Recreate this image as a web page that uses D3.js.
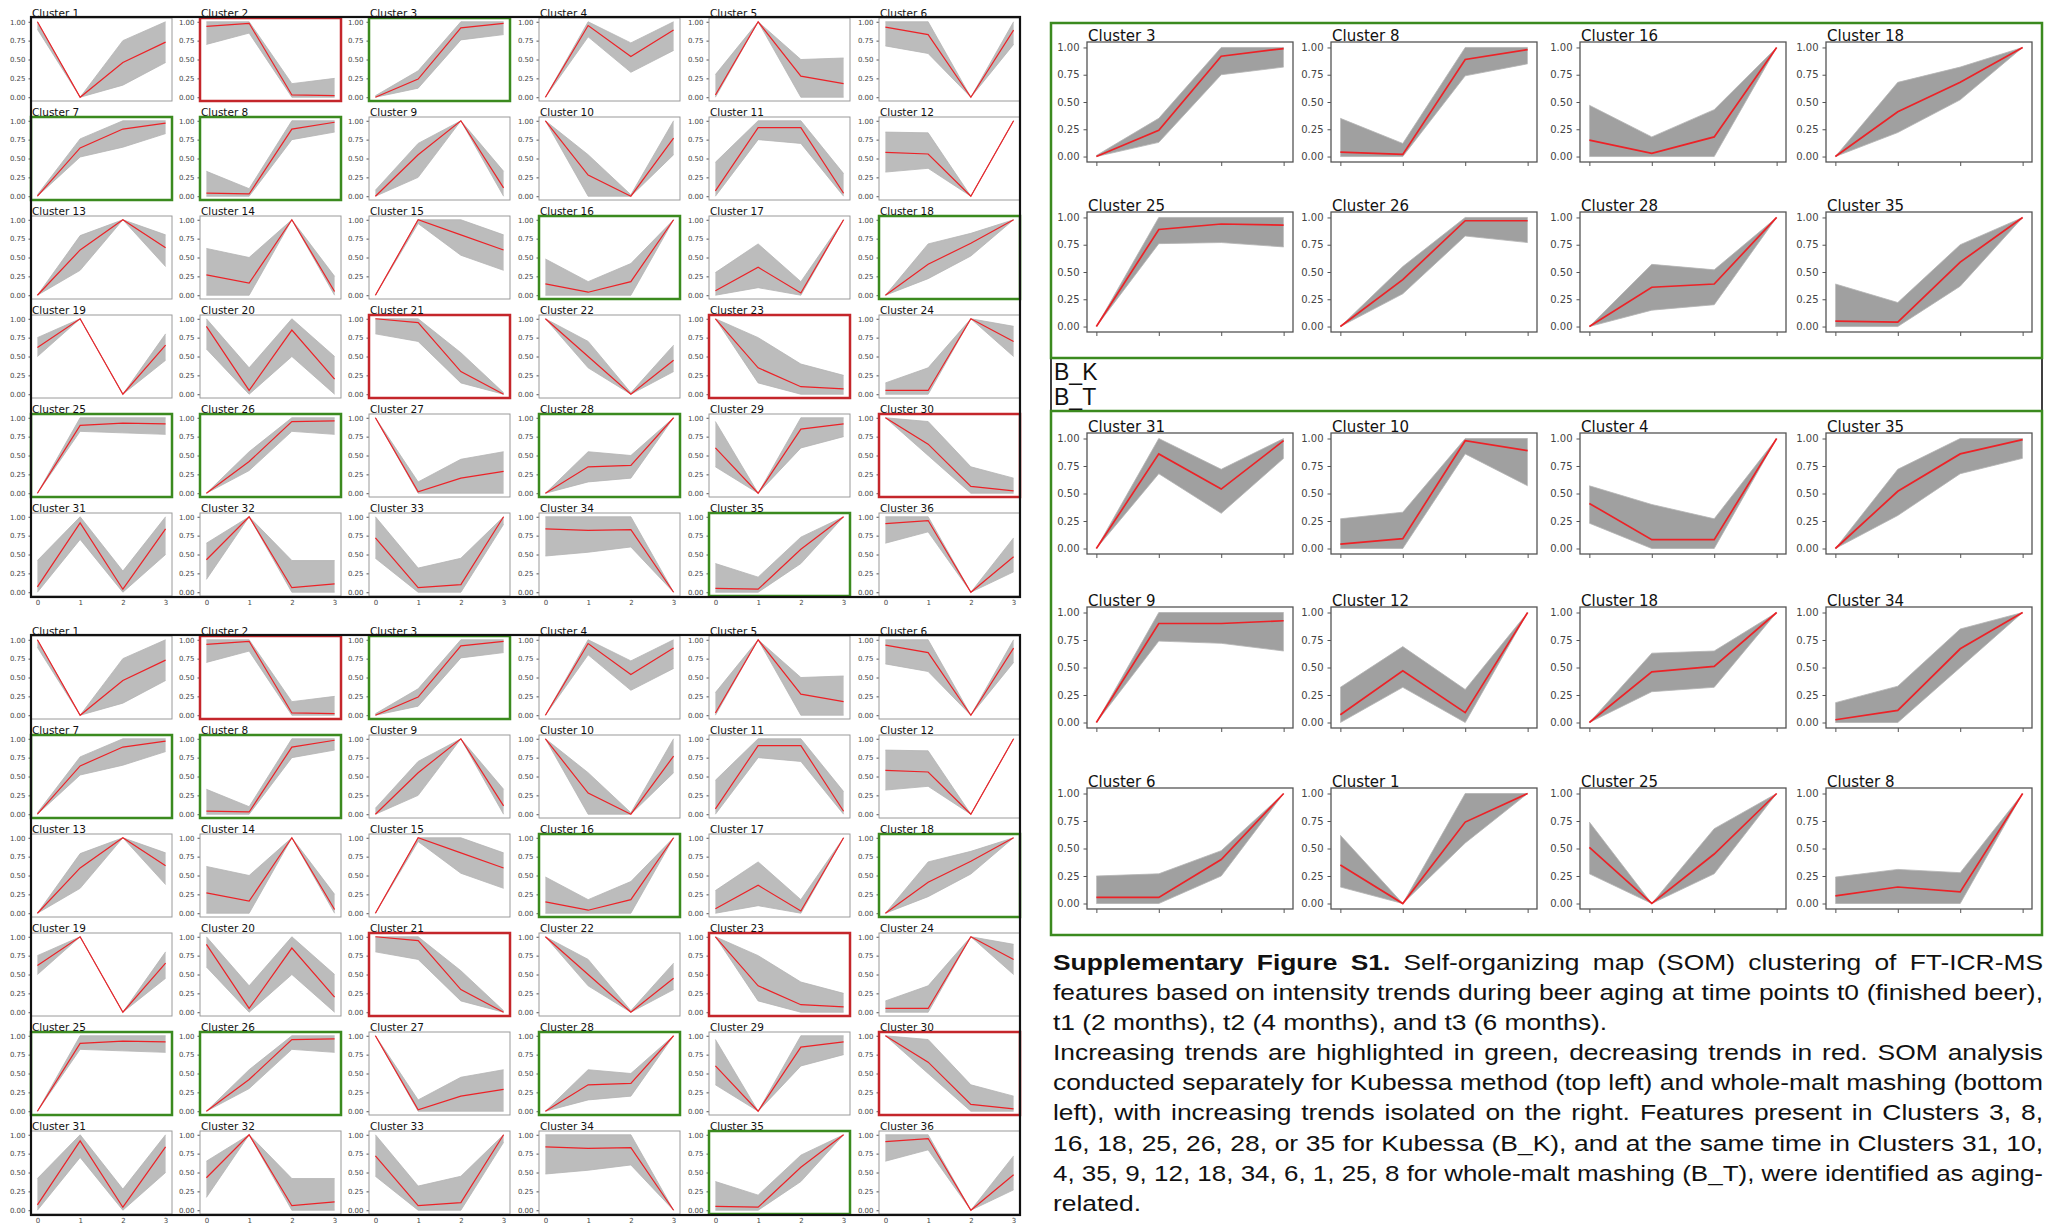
<!DOCTYPE html>
<html>
<head>
<meta charset="utf-8">
<title>SOM clustering, Supplementary Figure S1</title>
<script src="https://d3js.org/d3.v7.min.js"></script>
<style>
  body { margin: 0; background: #fff; }
</style>
</head>
<body>
<script>
var W = 2048, H = 1226;

// time points and y ticks shared by every panel
var timePoints = [0, 1, 2, 3];
var yTicks = [0, 0.25, 0.5, 0.75, 1];

// left grids: clusters 1..36, red mean line and grey envelope (low / high)
var leftMean = [
  [1, 0, 0.46, 0.73], [0.94, 0.98, 0.03, 0.02], [0, 0.24, 0.92, 0.98], [0, 0.95, 0.54, 0.89], [0.03, 1, 0.28, 0.18], [0.93, 0.83, 0, 0.89],
  [0, 0.64, 0.89, 0.97], [0.04, 0.03, 0.89, 0.98], [0, 0.55, 1, 0.11], [1, 0.28, 0, 0.77], [0.07, 0.91, 0.91, 0.04], [0.58, 0.56, 0, 1],
  [0, 0.6, 1, 0.63], [0.27, 0.16, 1, 0.05], [0, 1, 0.8, 0.6], [0.15, 0.04, 0.18, 1], [0.06, 0.37, 0.03, 1], [0, 0.41, 0.69, 1],
  [0.62, 1, 0, 0.65], [0.9, 0.05, 0.85, 0.2], [1, 0.95, 0.3, 0], [1, 0.5, 0, 0.45], [1, 0.35, 0.1, 0.07], [0.05, 0.05, 1, 0.7],
  [0, 0.9, 0.93, 0.92], [0, 0.42, 0.95, 0.96], [1, 0.02, 0.2, 0.29], [0, 0.35, 0.37, 1], [0.6, 0, 0.85, 0.92], [1, 0.65, 0.09, 0.03],
  [0.07, 0.92, 0.04, 0.84], [0.43, 1, 0.06, 0.11], [0.72, 0.06, 0.1, 1], [0.84, 0.82, 0.83, 0], [0.05, 0.04, 0.57, 1], [0.91, 0.95, 0, 0.47]
];
var leftLo = [
  [0.9, 0, 0.16, 0.46], [0.7, 0.85, 0, 0], [0, 0.12, 0.76, 0.83], [0, 0.8, 0.33, 0.62], [0, 1, 0, 0], [0.68, 0.58, 0, 0.7],
  [0, 0.52, 0.65, 0.83], [0, 0, 0.75, 0.85], [0, 0.25, 1, 0], [1, 0, 0, 0.55], [0, 0.75, 0.7, 0], [0.32, 0.37, 0, 1],
  [0, 0.33, 1, 0.38], [0, 0, 1, 0], [0, 0.95, 0.53, 0.33], [0, 0, 0, 1], [0, 0.1, 0, 1], [0, 0.22, 0.52, 1],
  [0.5, 1, 0, 0.45], [0.6, 0, 0.5, 0], [0.8, 0.7, 0.15, 0], [1, 0.35, 0, 0.3], [1, 0.15, 0, 0], [0, 0, 1, 0.5],
  [0, 0.82, 0.8, 0.78], [0, 0.3, 0.82, 0.78], [1, 0, 0, 0], [0, 0.15, 0.2, 1], [0.35, 0, 0.6, 0.75], [1, 0.5, 0, 0],
  [0, 0.7, 0, 0.5], [0.17, 1, 0, 0], [0.45, 0, 0, 0.9], [0.48, 0.53, 0.6, 0], [0, 0, 0.38, 1], [0.65, 0.8, 0, 0.27]
];
var leftHi = [
  [1, 0, 0.75, 1], [1, 1, 0.18, 0.25], [0.02, 0.35, 1, 1], [0, 1, 0.72, 1], [0.3, 1, 0.5, 0.52], [1, 1, 0, 1],
  [0.02, 0.76, 1, 1], [0.33, 0.1, 1, 1], [0.08, 0.7, 1, 0.33], [1, 0.55, 0.02, 1], [0.45, 1, 1, 0.3], [0.85, 0.84, 0, 1],
  [0, 0.79, 1, 0.8], [0.62, 0.5, 1, 0.25], [0, 1, 1, 0.8], [0.48, 0.18, 0.42, 1], [0.3, 0.68, 0.18, 1], [0, 0.68, 0.82, 1],
  [0.75, 1, 0, 0.8], [1, 0.35, 1, 0.5], [1, 1, 0.55, 0.02], [1, 0.7, 0.02, 0.65], [1, 0.75, 0.4, 0.25], [0.15, 0.35, 1, 0.9],
  [0, 1, 1, 1], [0, 0.55, 1, 1], [1, 0.15, 0.45, 0.55], [0, 0.55, 0.5, 1], [0.95, 0, 1, 1], [1, 0.95, 0.35, 0.2],
  [0.42, 1, 0.28, 1], [0.65, 1, 0.42, 0.42], [1, 0.32, 0.45, 1], [1, 1, 1, 0], [0.38, 0.2, 0.73, 1], [1, 1, 0, 0.72]
];
var leftGreen = [3, 7, 8, 16, 18, 25, 26, 28, 35];
var leftRed = [2, 21, 23, 30];

// right panel, B_K (increasing clusters)
var bkIds = [3, 8, 16, 18, 25, 26, 28, 35];
var bkMean = [[0, 0.24, 0.92, 0.99], [0.04, 0.02, 0.89, 0.98], [0.15, 0.03, 0.18, 1], [0, 0.41, 0.68, 1],
  [0, 0.89, 0.94, 0.93], [0, 0.43, 0.97, 0.97], [0, 0.36, 0.39, 1], [0.05, 0.04, 0.59, 1]];
var bkLo = [[0, 0.13, 0.75, 0.82], [0, 0, 0.74, 0.85], [0, 0, 0, 1], [0, 0.22, 0.52, 1],
  [0, 0.76, 0.77, 0.73], [0, 0.3, 0.83, 0.77], [0, 0.15, 0.2, 1], [0, 0, 0.37, 1]];
var bkHi = [[0.01, 0.35, 1, 1], [0.35, 0.12, 1, 1], [0.47, 0.18, 0.43, 1], [0, 0.68, 0.82, 1],
  [0, 1, 1, 1], [0, 0.55, 1, 1], [0, 0.57, 0.52, 1], [0.39, 0.22, 0.75, 1]];

// right panel, B_T
var btIds = [31, 10, 4, 35, 9, 12, 18, 34, 6, 1, 25, 8];
var btMean = [[0, 0.86, 0.54, 0.98], [0.04, 0.09, 0.98, 0.89], [0.41, 0.08, 0.08, 1], [0, 0.52, 0.86, 0.99],
  [0, 0.9, 0.9, 0.925], [0.07, 0.47, 0.09, 1], [0, 0.46, 0.51, 1], [0.025, 0.11, 0.67, 1],
  [0.055, 0.055, 0.4, 1], [0.35, 0, 0.74, 1], [0.51, 0, 0.45, 1], [0.07, 0.15, 0.105, 1]];
var btLo = [[0, 0.68, 0.32, 0.82], [0, 0, 0.86, 0.57], [0.23, 0, 0, 1], [0, 0.3, 0.68, 0.82],
  [0, 0.74, 0.72, 0.65], [0, 0.32, 0, 1], [0, 0.28, 0.32, 1], [0, 0, 0.5, 1],
  [0, 0, 0.25, 1], [0.15, 0, 0.55, 1], [0.27, 0, 0.27, 1], [0, 0, 0, 1]];
var btHi = [[0, 1, 0.72, 1], [0.27, 0.33, 1, 1], [0.57, 0.4, 0.27, 1], [0, 0.72, 1, 1],
  [0, 1, 1, 1], [0.32, 0.69, 0.3, 1], [0, 0.63, 0.65, 1], [0.18, 0.33, 0.85, 1],
  [0.25, 0.27, 0.48, 1], [0.62, 0, 1, 1], [0.74, 0, 0.68, 1], [0.24, 0.31, 0.28, 1]];

var captionLines = [
  { bold: "Supplementary Figure S1.", text: " Self-organizing map (SOM) clustering of FT-ICR-MS", justify: true },
  { text: "features based on intensity trends during beer aging at time points t0 (finished beer),", justify: true },
  { text: "t1 (2 months), t2 (4 months), and t3 (6 months).", justify: false },
  { text: "Increasing trends are highlighted in green, decreasing trends in red. SOM analysis", justify: true },
  { text: "conducted separately for Kubessa method (top left) and whole-malt mashing (bottom", justify: true },
  { text: "left), with increasing trends isolated on the right. Features present in Clusters 3, 8,", justify: true },
  { text: "16, 18, 25, 26, 28, or 35 for Kubessa (B_K), and at the same time in Clusters 31, 10,", justify: true },
  { text: "4, 35, 9, 12, 18, 34, 6, 1, 25, 8 for whole-malt mashing (B_T), were identified as aging-", justify: true },
  { text: "related.", justify: false }
];

var GREEN = "#3b8a1f", RED = "#c4262b", MEAN = "#ec2227";

var svg = d3.select("body").append("svg").attr("width", W).attr("height", H)
  .style("display", "block").style("background", "#fff");

// one small line chart
function panel(g, id, mean, lo, hi, box, st) {
  var x = d3.scaleLinear().domain([-0.15, 3.15]).range([box.x, box.x + box.w]);
  var y = d3.scaleLinear().domain([-0.05, 1.05]).range([box.y + box.h, box.y]);
  var pts = timePoints.map(function(t, i) { return { t: t, m: mean[i], lo: lo[i], hi: hi[i] }; });

  g.append("path").datum(pts)
    .attr("d", d3.area().x(function(d) { return x(d.t); }).y0(function(d) { return y(d.lo); }).y1(function(d) { return y(d.hi); }))
    .attr("fill", "#858585").attr("fill-opacity", st.bandOpacity);
  ["lo", "hi"].forEach(function(k) {
    g.append("path").datum(pts)
      .attr("d", d3.line().x(function(d) { return x(d.t); }).y(function(d) { return y(d[k]); }))
      .attr("fill", "none").attr("stroke", "#b4b4b4").attr("stroke-width", 0.8);
  });
  g.append("path").datum(pts)
    .attr("d", d3.line().x(function(d) { return x(d.t); }).y(function(d) { return y(d.m); }))
    .attr("fill", "none").attr("stroke", MEAN).attr("stroke-width", st.meanWidth);

  // y axis
  var ya = g.append("g").attr("transform", "translate(" + box.x + ",0)")
    .call(d3.axisLeft(y).tickValues(yTicks).tickFormat(d3.format(".2f")).tickSize(st.tick).tickPadding(st.pad));
  ya.select(".domain").remove();
  ya.selectAll("line").attr("stroke", "#555");
  ya.selectAll("text").attr("font-family", "DejaVu Sans").attr("font-size", st.tickFont).attr("fill", "#444");

  // x axis
  var xa = g.append("g").attr("transform", "translate(0," + (box.y + box.h) + ")")
    .call(d3.axisBottom(x).tickValues(timePoints).tickFormat(st.xLabels ? d3.format("d") : "").tickSize(st.xTick).tickPadding(2));
  xa.select(".domain").remove();
  xa.selectAll("line").attr("stroke", "#555");
  xa.selectAll("text").attr("font-family", "DejaVu Sans").attr("font-size", st.tickFont).attr("fill", "#444");

  // frame
  g.append("rect").attr("x", box.x).attr("y", box.y).attr("width", box.w).attr("height", box.h)
    .attr("fill", "none").attr("stroke", box.color || st.spine).attr("stroke-width", box.color ? 2.5 : st.spineWidth);

  g.append("text").attr("x", box.x + 1).attr("y", box.y - 1.5)
    .attr("font-family", "DejaVu Sans").attr("font-size", st.titleFont).attr("fill", "#111")
    .text("Cluster " + id);
}

// left: the two 6x6 grids
var colX = [31, 200, 369, 539, 709, 879], cellW = 141, cellH = 83;
var rowY = [18, 117, 216, 315, 414, 513];
var leftStyle = { tick: 2.5, pad: 3, tickFont: 7, xTick: 2, titleFont: 10.5, spine: "#9a9a9a", spineWidth: 1, meanWidth: 1.2, bandOpacity: 0.55 };

[0, 618].forEach(function(off) {
  var grid = svg.append("g");
  leftMean.forEach(function(m, i) {
    var id = i + 1, r = Math.floor(i / 6), c = i % 6;
    var color = leftGreen.indexOf(id) >= 0 ? GREEN : (leftRed.indexOf(id) >= 0 ? RED : null);
    var st = Object.assign({}, leftStyle, { xLabels: r === 5, xTick: r === 5 ? 2 : 0 });
    panel(grid, id, m, leftLo[i], leftHi[i], { x: colX[c], y: rowY[r] + off, w: cellW, h: cellH, color: color }, st);
  });
  grid.append("rect").attr("x", 31).attr("y", 17 + off).attr("width", 989).attr("height", 580)
    .attr("fill", "none").attr("stroke", "#111").attr("stroke-width", 2.2);
});

// right panel
var rightStyle = { tick: 3.5, pad: 4, tickFont: 10, xTick: 4, titleFont: 15, spine: "#555", spineWidth: 1.3, meanWidth: 1.7, xLabels: false, bandOpacity: 0.78 };
var rCols = [1087, 1331, 1580, 1826], rW = 206;
var right = svg.append("g");

bkIds.forEach(function(id, i) {
  var r = Math.floor(i / 4), c = i % 4;
  panel(right, id, bkMean[i], bkLo[i], bkHi[i], { x: rCols[c], y: [42, 212][r], w: rW, h: 120 }, rightStyle);
});
btIds.forEach(function(id, i) {
  var r = Math.floor(i / 4), c = i % 4;
  panel(right, id, btMean[i], btLo[i], btHi[i], { x: rCols[c], y: [433, 607, 788][r], w: rW, h: 121 }, rightStyle);
});

// frames of the right side
right.append("rect").attr("x", 1051).attr("y", 358).attr("width", 991).attr("height", 53)
  .attr("fill", "none").attr("stroke", "#111").attr("stroke-width", 1.6);
right.append("rect").attr("x", 1051).attr("y", 23).attr("width", 991).attr("height", 335)
  .attr("fill", "none").attr("stroke", GREEN).attr("stroke-width", 2.5);
right.append("rect").attr("x", 1051).attr("y", 411).attr("width", 991).attr("height", 524)
  .attr("fill", "none").attr("stroke", GREEN).attr("stroke-width", 2.5);
right.append("text").attr("x", 1054).attr("y", 380).attr("font-family", "Liberation Sans").attr("font-size", 23)
  .attr("fill", "#111").text("B_K");
right.append("text").attr("x", 1054).attr("y", 405).attr("font-family", "Liberation Sans").attr("font-size", 23)
  .attr("fill", "#111").text("B_T");

// caption: glyphs a bit wider than Arial, justified lines filled with word spacing
var capX = 1053, capW = 990, capY = 970, capStep = 30.1, stretch = 1.2;
var cap = svg.append("g").attr("font-family", "Liberation Sans").attr("font-size", 22).attr("fill", "#111")
  .attr("transform", "scale(" + stretch + ",1)");
captionLines.forEach(function(l, i) {
  var t = cap.append("text").attr("x", capX / stretch).attr("y", capY + i * capStep);
  if (l.bold) t.append("tspan").attr("font-weight", "bold").text(l.bold);
  t.append("tspan").text(l.text);
  if (l.justify) {
    var target = capW / stretch;
    var len = t.node().getComputedTextLength();
    var spaces = ((l.bold || "") + l.text).split(" ").length - 1;
    if (len <= target) t.attr("word-spacing", (target - len) / spaces);
    else t.attr("textLength", target).attr("lengthAdjust", "spacingAndGlyphs");
  }
});
</script>
</body>
</html>
